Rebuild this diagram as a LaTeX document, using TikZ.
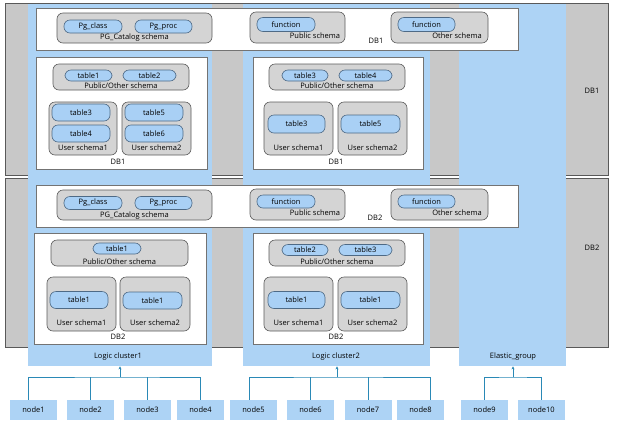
\documentclass[tikz,border=0pt]{standalone}
\usepackage{fontspec}
\setmainfont{Open Sans}
\usetikzlibrary{arrows.meta, positioning}

\definecolor{clblue}{HTML}{ADD3F5}
\definecolor{pillblue}{HTML}{A9D0F5}
\definecolor{pillline}{HTML}{4E6A86}
\definecolor{bandgray}{HTML}{C8C8C8}
\definecolor{schgray}{HTML}{D4D4D4}
\definecolor{schline}{HTML}{5C5C5C}
\definecolor{wire}{HTML}{2A89B6}

\tikzset{
  band/.style={fill=bandgray, draw=black!65, line width=0.8pt},
  cluster/.style={fill=clblue, draw=none, inner sep=0pt, anchor=north west},
  dbbox/.style={fill=white, draw=black!55, line width=0.5pt},
  schema/.style={fill=schgray, draw=schline, line width=0.6pt, rounded corners=6pt},
  tbl/.style={fill=pillblue, draw=pillline, line width=0.6pt, rounded corners=6pt,
    inner sep=0pt, minimum height=12pt},
  lbl/.style={inner sep=0pt},
  host/.style={fill=clblue, draw=none, minimum width=47pt, minimum height=20pt, inner sep=0pt},
  wireline/.style={draw=wire, line width=0.7pt},
}

\begin{document}
\begin{tikzpicture}[x=1pt, y=-1pt, font=\fontsize{7.5}{9}\selectfont]
\useasboundingbox (0,0) rectangle (622,432);
\fill[white] (0,0) rectangle (622,432);

% database bands
\draw[band] (5,3) rectangle (608,175);
\draw[band] (5,178) rectangle (608,347);
\node[lbl] (db1right) at (592,91) {DB1};
\node[lbl] (db2right) at (592,248) {DB2};

% logic clusters
\node[cluster, minimum width=184pt, minimum height=362pt] (lc1) at (28,4) {};
\node[cluster, minimum width=187pt, minimum height=362pt] (lc2) at (243,4) {};
\node[cluster, minimum width=107pt, minimum height=362pt] (eg) at (459,4) {};
\node[lbl] at (118,357) {Logic cluster1};
\node[lbl] at (336,357) {Logic cluster2};
\node[lbl] at (513,357) {Elastic\_group};

% ---- DB1 ----
\draw[dbbox] (36,8) rectangle (518,50);
\draw[schema] (57,13) rectangle (212,43);
\node[tbl, minimum width=58pt, minimum height=13pt] (pgclass1) at (93,26.5) {Pg\_class};
\node[tbl, minimum width=57pt, minimum height=13pt] (pgproc1) at (163.5,26.5) {Pg\_proc};
\node[lbl] at (134.5,38) {PG\_Catalog schema};
\draw[schema] (250,12) rectangle (345,43);
\node[tbl, minimum width=58pt, minimum height=14pt] (func1a) at (286,24.5) {function};
\node[lbl] at (315,36) {Public schema};
\draw[schema] (391,12) rectangle (488,43);
\node[tbl, minimum width=57pt, minimum height=14pt] (func1b) at (426.5,24.5) {function};
\node[lbl] at (457,36) {Other schema};
\node[lbl] at (376,41) {DB1};

% cluster1 / DB1
\draw[dbbox] (36,57) rectangle (207,169);
\draw[schema] (53,64) rectangle (189,90);
\node[tbl, minimum width=47pt, minimum height=11pt] (c1t1) at (88.5,75.5) {table1};
\node[tbl, minimum width=53pt, minimum height=11pt] (c1t2) at (149.5,75.5) {table2};
\node[lbl] at (121,86) {Public/Other schema};
\draw[schema] (49,102) rectangle (117,155);
\node[tbl, minimum width=58pt, minimum height=17pt] (c1t3) at (81,112.5) {table3};
\node[tbl, minimum width=58pt, minimum height=17pt] (c1t4) at (81,133.5) {table4};
\node[lbl] at (83,148) {User schema1};
\draw[schema] (122,102) rectangle (191,155);
\node[tbl, minimum width=58pt, minimum height=17pt] (c1t5) at (154,112.5) {table5};
\node[tbl, minimum width=58pt, minimum height=17pt] (c1t6) at (154,133.5) {table6};
\node[lbl] at (156.5,148) {User schema2};
\node[lbl] at (118,162) {DB1};

% cluster2 / DB1
\draw[dbbox] (253,57) rectangle (423,169);
\draw[schema] (269,64) rectangle (405,90);
\node[tbl, minimum width=46pt, minimum height=11pt] (c2t3) at (305,75.5) {table3};
\node[tbl, minimum width=53pt, minimum height=11pt] (c2t4) at (365.5,75.5) {table4};
\node[lbl] at (337,86) {Public/Other schema};
\draw[schema] (264,102) rectangle (333,155);
\node[tbl, minimum width=57pt, minimum height=18pt] (c2t3b) at (296.5,124) {table3};
\node[lbl] at (298.5,148) {User schema1};
\draw[schema] (338,102) rectangle (407,155);
\node[tbl, minimum width=59pt, minimum height=18pt] (c2t5) at (370.5,124) {table5};
\node[lbl] at (372.5,148) {User schema2};
\node[lbl] at (336,162) {DB1};

% ---- DB2 ----
\draw[dbbox] (36,185) rectangle (518,227);
\draw[schema] (57,190) rectangle (212,220);
\node[tbl, minimum width=58pt, minimum height=13pt] (pgclass2) at (93,203) {Pg\_class};
\node[tbl, minimum width=57pt, minimum height=13pt] (pgproc2) at (163.5,203) {Pg\_proc};
\node[lbl] at (134.5,216) {PG\_Catalog schema};
\draw[schema] (250,189) rectangle (345,220);
\node[tbl, minimum width=58pt, minimum height=13pt] (func2a) at (286,201.5) {function};
\node[lbl] at (315,213) {Public schema};
\draw[schema] (391,189) rectangle (488,220);
\node[tbl, minimum width=57pt, minimum height=13pt] (func2b) at (426.5,201.5) {function};
\node[lbl] at (457,213) {Other schema};
\node[lbl] at (375,218) {DB2};

% cluster1 / DB2
\draw[dbbox] (34,233) rectangle (206,344);
\draw[schema] (51,240) rectangle (188,266);
\node[tbl, minimum width=48pt, minimum height=11pt] (d1t1) at (117,248.5) {table1};
\node[lbl] at (119.5,262) {Public/Other schema};
\draw[schema] (47,277) rectangle (116,331);
\node[tbl, minimum width=58pt, minimum height=17pt] (d1u1) at (79,300) {table1};
\node[lbl] at (81.5,323) {User schema1};
\draw[schema] (120,277) rectangle (190,331);
\node[tbl, minimum width=59pt, minimum height=17pt] (d1u2) at (152.5,300.5) {table1};
\node[lbl] at (155,323) {User schema2};
\node[lbl] at (118,337) {DB2};

% cluster2 / DB2
\draw[dbbox] (253,233) rectangle (423,344);
\draw[schema] (269,240) rectangle (405,266);
\node[tbl, minimum width=46pt, minimum height=11pt] (d2t2) at (305,250) {table2};
\node[tbl, minimum width=53pt, minimum height=11pt] (d2t3) at (365.5,250) {table3};
\node[lbl] at (337,262) {Public/Other schema};
\draw[schema] (264,277) rectangle (333,331);
\node[tbl, minimum width=57pt, minimum height=17pt] (d2u1) at (296.5,300) {table1};
\node[lbl] at (298.5,323) {User schema1};
\draw[schema] (338,277) rectangle (407,331);
\node[tbl, minimum width=59pt, minimum height=17pt] (d2u2) at (370.5,300) {table1};
\node[lbl] at (372.5,323) {User schema2};
\node[lbl] at (336,337) {DB2};

% hosts
\foreach \n/\x in {1/33.5, 2/90.5, 3/147.5, 4/200.5, 5/253.5, 6/310.5, 7/368, 8/420.5, 9/484.5, 10/541.5}
  \node[host] (node\n) at (\x,410) {node\n};

% links to clusters
\coordinate (bus1) at (120,377);
\coordinate (bus2) at (337,377);
\coordinate (bus3) at (513,377);
\draw[wireline] ([xshift=-5pt]node1.north) |- (bus1) -| (node4.north);
\draw[wireline] (node2.north) -- (node2.north |- bus1);
\draw[wireline] (node3.north) -- (node3.north |- bus1);
\draw[wireline] ([xshift=-4pt]node5.north) |- (bus2) -| ([xshift=10pt]node8.north);
\draw[wireline] (node6.north) -- (node6.north |- bus2);
\draw[wireline] (node7.north) -- (node7.north |- bus2);
\draw[wireline] (node9.north) |- (bus3) -| (node10.north);
\draw[wireline, -{Stealth[length=3pt, width=3pt]}] (bus1) -- (bus1 |- lc1.south);
\draw[wireline, -{Stealth[length=3pt, width=3pt]}] (bus2) -- (bus2 |- lc2.south);
\draw[wireline, -{Stealth[length=3pt, width=3pt]}] (bus3) -- (bus3 |- eg.south);

\end{tikzpicture}
\end{document}
